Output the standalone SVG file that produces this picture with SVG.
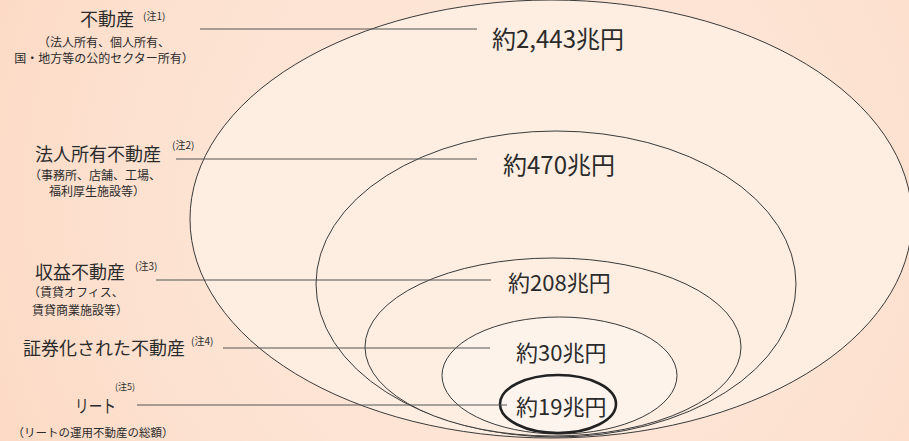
<svg xmlns="http://www.w3.org/2000/svg" width="909" height="441" viewBox="0 0 909 441">
<defs>
<radialGradient id="bg" cx="520" cy="200" r="620" gradientUnits="userSpaceOnUse">
<stop offset="0" stop-color="#fde9dc"/>
<stop offset="0.6" stop-color="#fde2d1"/>
<stop offset="1" stop-color="#fcd8c2"/>
</radialGradient>
<style>
.ring{fill:#fdeee1;stroke:#3a3a3a;stroke-width:1}
.lead{stroke:#555;stroke-width:1.2;fill:none}
text{font-family:"Noto Sans CJK JP","Noto Sans",sans-serif;fill:#2b2b2b}
.big{font-size:18px}
.sub{font-size:12px}
.note{font-size:10px}
.val{font-size:22px}
.valL{font-size:24px}
</style>
</defs>
<rect x="0" y="0" width="909" height="441" fill="url(#bg)"/>
<g id="ellipse-all">
<ellipse class="ring" cx="551" cy="219" rx="361" ry="219"/>
</g>
<g id="ellipse-corp">
<ellipse class="ring" cx="556" cy="284" rx="240" ry="153"/>
</g>
<g id="ellipse-income">
<ellipse class="ring" cx="553" cy="347" rx="188" ry="89"/>
</g>
<g id="ellipse-securitized">
<ellipse class="ring" cx="559.5" cy="375.5" rx="117.5" ry="58.5" style="fill:#fdf3eb"/>
</g>
<g id="ellipse-reit">
<ellipse cx="558" cy="404" rx="58" ry="29" fill="#fdf4ed" stroke="#222" stroke-width="2.6"/>
</g>
<g id="connectors">
<line class="lead" x1="200" y1="29" x2="477" y2="29"/>
<line class="lead" x1="176" y1="159" x2="477" y2="159"/>
<line class="lead" x1="156" y1="280" x2="491" y2="280"/>
<line class="lead" x1="223" y1="348" x2="490" y2="348"/>
<line class="lead" x1="137" y1="405" x2="507" y2="405"/>
</g>
<g id="label-fudosan">
<text class="big" x="107" y="26" text-anchor="middle">不動産</text>
<text class="note" x="143" y="20">(注1)</text>
<text class="sub" x="104" y="47" text-anchor="middle">（法人所有、個人所有、</text>
<text class="sub" x="104" y="63" text-anchor="middle">国・地方等の公的セクター所有）</text>
<text class="valL" x="492" y="48">約2,443兆円</text>
</g>
<g id="label-corp">
<text class="big" x="98" y="161" text-anchor="middle">法人所有不動産</text>
<text class="note" x="172" y="149">(注2)</text>
<text class="sub" x="95" y="180" text-anchor="middle">（事務所、店舗、工場、</text>
<text class="sub" x="97" y="196" text-anchor="middle">福利厚生施設等）</text>
<text class="valL" x="503" y="174">約470兆円</text>
</g>
<g id="label-income">
<text class="big" x="80" y="279" text-anchor="middle">収益不動産</text>
<text class="note" x="135" y="270">(注3)</text>
<text class="sub" x="76" y="297" text-anchor="middle">（賃貸オフィス、</text>
<text class="sub" x="80" y="315" text-anchor="middle">賃貸商業施設等）</text>
<text class="val" x="508" y="291">約208兆円</text>
</g>
<g id="label-securitized">
<text class="big" x="104" y="355" text-anchor="middle">証券化された不動産</text>
<text class="note" x="191" y="345">(注4)</text>
<text class="val" x="516" y="361">約30兆円</text>
</g>
<g id="label-reit">
<text class="big" x="75" y="413" textLength="41" lengthAdjust="spacingAndGlyphs">リート</text>
<text class="note" x="115" y="390" style="font-size:9px">(注5)</text>
<text x="93" y="437" text-anchor="middle" style="font-size:11.5px">（リートの運用不動産の総額）</text>
<text class="val" x="516" y="415">約19兆円</text>
</g>
</svg>
